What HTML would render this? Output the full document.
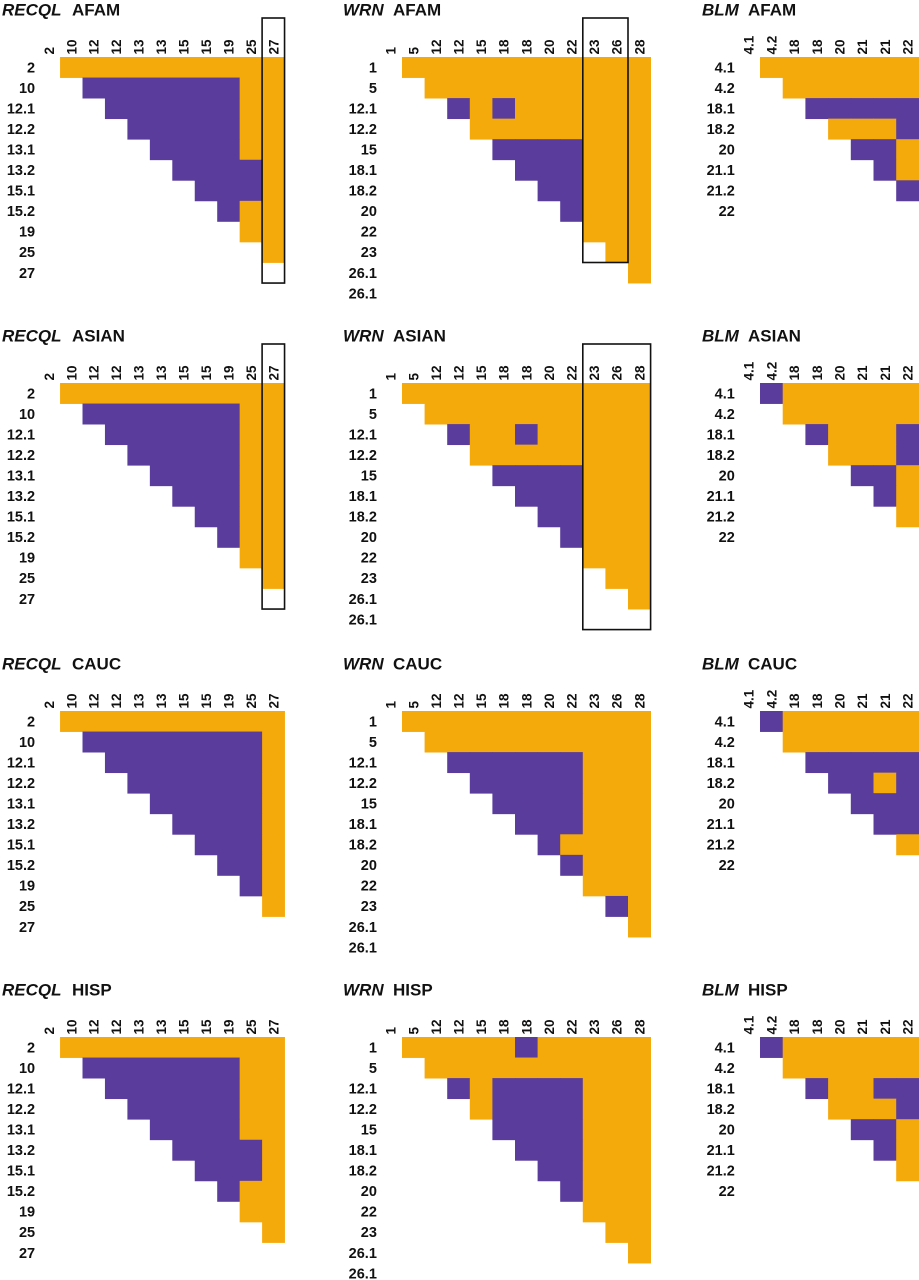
<!DOCTYPE html>
<html><head><meta charset="utf-8">
<style>
html,body{margin:0;padding:0;background:#fff;overflow:hidden}
svg{display:block}
text{font-family:"Liberation Sans",Arial,sans-serif;font-weight:bold;fill:#111}
</style></head>
<body>
<svg id="fig" width="919" height="1280" viewBox="0 0 919 1280" xmlns="http://www.w3.org/2000/svg"></svg>
<script>
// ---- data ----
const populations = ["AFAM","ASIAN","CAUC","HISP"];
const recqlCols = ["2","10","12","12","13","13","15","15","19","25","27"];
const recqlRows = ["2","10","12.1","12.2","13.1","13.2","15.1","15.2","19","25","27"];
const wrnCols = ["1","5","12","12","15","18","18","20","22","23","26","28"];
const wrnRows = ["1","5","12.1","12.2","15","18.1","18.2","20","22","23","26.1","26.1"];
const blmCols = ["4.1","4.2","18","18","20","21","21","22"];
const blmRows = ["4.1","4.2","18.1","18.2","20","21.1","21.2","22"];

// O = orange (LD), P = purple ; row i starts at column i+1
const recqlAFAM = ["OOOOOOOOOO","PPPPPPPOO","PPPPPPOO","PPPPPOO","PPPPOO","PPPPO","PPPO","POO","OO","O"];
const recqlASIAN = ["OOOOOOOOOO","PPPPPPPOO","PPPPPPOO","PPPPPOO","PPPPOO","PPPOO","PPOO","POO","OO","O"];
const recqlCAUC = ["OOOOOOOOOO","PPPPPPPPO","PPPPPPPO","PPPPPPO","PPPPPO","PPPPO","PPPO","PPO","PO","O"];
const recqlHISP = ["OOOOOOOOOO","PPPPPPPOO","PPPPPPOO","PPPPPOO","PPPPOO","PPPPO","PPPO","POO","OO","O"];

const wrnAFAM = ["OOOOOOOOOOO","OOOOOOOOOO","POPOOOOOO","OOOOOOOO","PPPPOOO","PPPOOO","PPOOO","POOO","OOO","OO","O"];
const wrnASIAN = ["OOOOOOOOOOO","OOOOOOOOOO","POOPOOOOO","OOOOOOOO","PPPPOOO","PPPOOO","PPOOO","POOO","OOO","OO","O"];
const wrnCAUC = ["OOOOOOOOOOO","OOOOOOOOOO","PPPPPPOOO","PPPPPOOO","PPPPOOO","PPPOOO","POOOO","POOO","OOO","PO","O"];
const wrnHISP = ["OOOOOPOOOOO","OOOOOOOOOO","POPPPPOOO","OPPPPOOO","PPPPOOO","PPPOOO","PPOOO","POOO","OOO","OO","O"];

const blmAFAM = ["OOOOOOO","OOOOOO","PPPPP","OOOP","PPO","PO","P"];
const blmASIAN = ["POOOOOO","OOOOOO","POOOP","OOOP","PPO","PO","O"];
const blmCAUC = ["POOOOOO","OOOOOO","PPPPP","PPOP","PPP","PP","O"];
const blmHISP = ["POOOOOO","OOOOOO","POOPP","OOOP","PPO","PO","O"];

// boxes: [gene, population, firstCol, lastCol, lastRow]
const boxes = [["RECQL","AFAM",10,10,10],["RECQL","ASIAN",10,10,10],["WRN","AFAM",9,10,9],["WRN","ASIAN",9,11,11]];

// ---- layout ----
const NS="http://www.w3.org/2000/svg";
const svg=document.getElementById('fig');
const ORANGE="#f5aa0c", PURPLE="#5a3c9c";
const rowTops=[57,383,711,1037];
const genes=[
 {name:"RECQL",cols:recqlCols,rows:recqlRows,x0:37.6,cw:22.45,titleX:2,popX:72,data:[recqlAFAM,recqlASIAN,recqlCAUC,recqlHISP]},
 {name:"WRN",cols:wrnCols,rows:wrnRows,x0:379.4,cw:22.6,titleX:343,popX:393,data:[wrnAFAM,wrnASIAN,wrnCAUC,wrnHISP]},
 {name:"BLM",cols:blmCols,rows:blmRows,x0:737.3,cw:22.7,titleX:702,popX:748,data:[blmAFAM,blmASIAN,blmCAUC,blmHISP]}
];
const RH=20.55;
function mk(tag,attrs){const e=document.createElementNS(NS,tag);for(const k in attrs)e.setAttribute(k,attrs[k]);return e;}

genes.forEach(g=>{
 populations.forEach((pop,pi)=>{
  const top=rowTops[pi];
  const xs=j=>g.x0+j*g.cw;
  const ys=i=>top+i*RH;
  const grp=mk('g',{});
  
  
  svg.appendChild(grp);
  const t1=mk('text',{x:g.titleX,y:top-41.5,'font-size':17,'font-style':'italic'});
  t1.textContent=g.name;
  
  
  grp.appendChild(t1);
  const t2=mk('text',{x:g.popX,y:top-41.5,'font-size':17});
  t2.textContent=pop;
  
  
  grp.appendChild(t2);
  const rowsData=g.data[pi];
  rowsData.forEach((row,i)=>{
   for(let k=0;k<row.length;k++){
    const j=i+1+k;
    const r=mk('rect',{x:xs(j),y:ys(i),width:g.cw+0.4,height:RH+0.4,fill:row[k]==='P'?PURPLE:ORANGE});
    
    
    grp.appendChild(r);
   }
  });
  g.cols.forEach((c,j)=>{
   const cx=xs(j)+g.cw/2+5, cy=top-2.5;
   const tx=mk('text',{x:cx,y:cy,'font-size':13.5,transform:`rotate(-90 ${cx} ${cy})`});
   tx.textContent=c;
   
   
   grp.appendChild(tx);
  });
  g.rows.forEach((r,i)=>{
   const tx=mk('text',{x:g.x0-2.5,y:ys(i)+RH/2+5,'font-size':14.5,'text-anchor':'end'});
   tx.textContent=r;
   
   
   grp.appendChild(tx);
  });
  boxes.forEach(b=>{
   if(b[0]===g.name&&b[1]===pop){
    const x1=xs(b[2]), x2=xs(b[3]+1), y1=top-39, y2=ys(b[4]+1);
    const bx=mk('rect',{x:x1,y:y1,width:x2-x1,height:y2-y1,fill:'none',stroke:'#111','stroke-width':1.6});
    
    
    grp.appendChild(bx);
   }
  });
 });
});
</script>
</body></html>
